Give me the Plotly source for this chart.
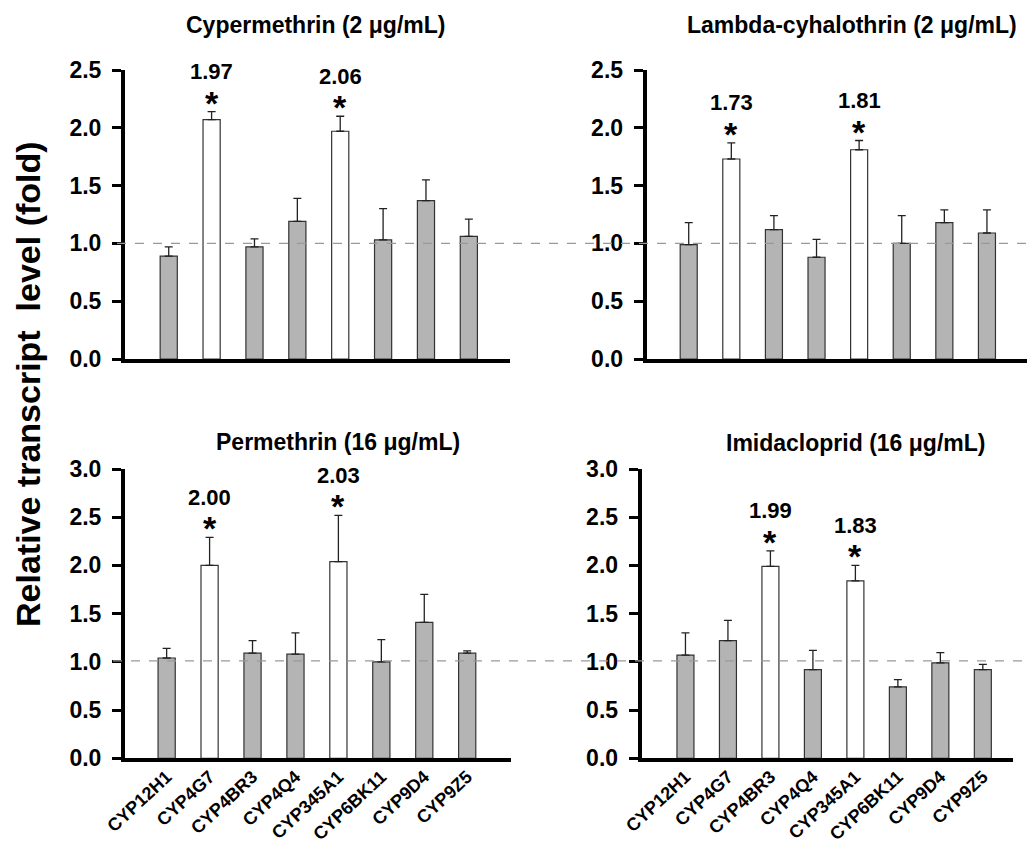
import plotly.graph_objects as go

W, H = 1027, 850

genes = ["CYP12H1", "CYP4G7", "CYP4BR3", "CYP4Q4", "CYP345A1", "CYP6BK11", "CYP9D4", "CYP9Z5"]

titles = ["Cypermethrin (2 \u03bcg/mL)", "Lambda-cyhalothrin (2 \u03bcg/mL)",
          "Permethrin (16 \u03bcg/mL)", "Imidacloprid (16 \u03bcg/mL)"]

cyper_mean = [0.89, 2.07, 0.97, 1.19, 1.97, 1.03, 1.37, 1.06]
cyper_err = [0.08, 0.07, 0.07, 0.20, 0.13, 0.27, 0.18, 0.15]
lambda_mean = [0.99, 1.73, 1.12, 0.88, 1.81, 1.00, 1.18, 1.09]
lambda_err = [0.19, 0.14, 0.12, 0.155, 0.08, 0.24, 0.11, 0.20]
perm_mean = [1.04, 2.00, 1.09, 1.08, 2.04, 1.00, 1.41, 1.09]
perm_err = [0.10, 0.29, 0.13, 0.22, 0.48, 0.23, 0.29, 0.025]
imid_mean = [1.07, 1.22, 1.99, 0.92, 1.84, 0.74, 0.99, 0.92]
imid_err = [0.23, 0.21, 0.16, 0.20, 0.16, 0.075, 0.105, 0.055]

# significant genes (white bars) and the fold labels printed above them
sig_genes = [["CYP4G7", "CYP345A1"], ["CYP4G7", "CYP345A1"],
             ["CYP4G7", "CYP345A1"], ["CYP4BR3", "CYP345A1"]]
sig_labels = [["1.97", "2.06"], ["1.73", "1.81"], ["2.00", "2.03"], ["1.99", "1.83"]]

y_max = [2.5, 2.5, 3.0, 3.0]
ref_level = 1.0

means = [cyper_mean, lambda_mean, perm_mean, imid_mean]
errs = [cyper_err, lambda_err, perm_err, imid_err]

# layout geometry (pixels)
x_dom_px = [(125, 510), (646.7, 1027), (125, 511), (641.7, 1013)]
x_rng = [(-1.02, 7.96), (-0.986, 7.94), (-0.97, 8.02), (-1.03, 7.71)]
y_dom_px = [(70, 359), (70, 359), (469, 758.3), (469, 758.3)]
title_pos_px = [(315, 25), (851.7, 25), (338, 442), (855.8, 443)]

FONT = "Arial, Liberation Sans, sans-serif"
GRAY = "#b4b4b4"

fig = go.Figure()
annotations = []
for i in range(4):
    sfx = "" if i == 0 else str(i + 1)
    colors = ["white" if g in sig_genes[i] else GRAY for g in genes]
    fig.add_trace(go.Bar(
        x=genes, y=means[i], width=0.4,
        marker=dict(color=colors, line=dict(color="#333333", width=1.2)),
        error_y=dict(type="data", array=errs[i], arrayminus=[0] * len(genes),
                     symmetric=False, color="#222222", thickness=1.3, width=4),
        xaxis="x" + sfx, yaxis="y" + sfx, showlegend=False, hoverinfo="skip",
    ))
    x0, x1 = x_dom_px[i]
    yt, yb = y_dom_px[i]
    fig.layout["xaxis" + sfx] = dict(
        domain=[x0 / W, min(x1 / W, 1.0)], range=list(x_rng[i]), anchor="y" + sfx,
        type="category", showline=True, linecolor="black", linewidth=4,
        ticks="", showgrid=False, zeroline=False, automargin=False,
        showticklabels=(i >= 2), tickangle=-43, ticklabelstandoff=-3,
        tickfont=dict(family=FONT, size=18, color="black", weight="bold"),
    )
    fig.layout["yaxis" + sfx] = dict(
        domain=[1 - yb / H, 1 - yt / H], range=[0, y_max[i]], anchor="x" + sfx,
        dtick=0.5, tickformat=".1f", ticks="outside", ticklen=9, tickwidth=3,
        tickcolor="black", showline=True, linecolor="black", linewidth=4,
        showgrid=False, zeroline=False, automargin=False, ticklabelstandoff=6,
        tickfont=dict(family=FONT, size=23, color="black", weight="bold"),
    )
    # significance markers and labels
    for g, lab in zip(sig_genes[i], sig_labels[i]):
        k = genes.index(g)
        top = means[i][k] + errs[i][k]
        annotations.append(dict(x=g, y=top, xref="x" + sfx, yref="y" + sfx,
                                text="*", showarrow=False, yanchor="middle", yshift=9,
                                font=dict(family=FONT, size=34, color="black", weight="bold")))
        annotations.append(dict(x=g, y=top, xref="x" + sfx, yref="y" + sfx,
                                text=lab, showarrow=False, yanchor="middle", yshift=40,
                                font=dict(family=FONT, size=22, color="black", weight="bold")))
    tx, ty = title_pos_px[i]
    annotations.append(dict(x=tx / W, y=1 - ty / H, xref="paper", yref="paper",
                            text=titles[i], showarrow=False, xanchor="center", yanchor="middle",
                            font=dict(family=FONT, size=23, color="black", weight="bold")))

annotations.append(dict(x=28 / W, y=1 - 384 / H, xref="paper", yref="paper",
                        text="Relative transcript\u00a0\u00a0level (fold)", textangle=-90,
                        showarrow=False, xanchor="center", yanchor="middle",
                        font=dict(family=FONT, size=34, color="black", weight="bold")))

shapes = [
    dict(type="line", xref="paper", yref="y", x0=117 / W, x1=1.0, y0=ref_level, y1=ref_level,
         line=dict(color="#999999", width=1.2, dash="dash"), layer="above"),
    dict(type="line", xref="paper", yref="y3", x0=113 / W, x1=1.0, y0=ref_level * 1.01, y1=ref_level * 1.01,
         line=dict(color="#999999", width=1.2, dash="dash"), layer="above"),
]

fig.update_layout(
    template="none",
    width=W, height=H, autosize=False,
    margin=dict(l=0, r=0, t=0, b=0, pad=0),
    paper_bgcolor="white", plot_bgcolor="white",
    annotations=annotations, shapes=shapes,
    bargap=0.6, hovermode=False,
)

fig.write_html("out.html",
               config={"displayModeBar": False, "staticPlot": True},
               post_script="document.body.style.margin='0';document.body.style.overflow='hidden';")
